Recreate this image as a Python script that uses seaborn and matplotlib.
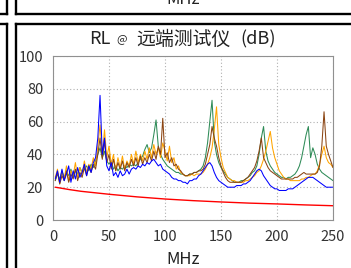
import matplotlib
matplotlib.use("Agg")
import matplotlib.pyplot as plt
from matplotlib.lines import Line2D
import seaborn as sns
import numpy as np
import pandas as pd

# frequency grid (MHz) shared by the measured traces
freq = list(range(2, 251, 2))

blue_rl = [
    25, 30, 23, 31, 24, 28, 33, 23, 30, 25, 32, 26, 29, 34, 27, 33, 29, 35, 38, 50,
    76, 40, 50, 33, 30, 35, 27, 29, 26, 30, 27, 28, 31, 28, 31, 32, 31, 33, 32, 34,
    33, 35, 34, 36, 37, 35, 33, 34, 31, 30, 29, 28, 26, 25, 25, 24, 24, 23, 23, 22,
    24, 24, 25, 25, 27, 28, 30, 32, 34, 35, 33, 29, 26, 24, 23, 22, 21, 20, 20, 20,
    20, 21, 21, 21, 22, 22, 23, 24, 26, 28, 30, 31, 30, 27, 25, 23, 21, 20, 19, 19,
    18, 18, 18, 18, 19, 19, 19, 20, 21, 22, 23, 24, 25, 26, 26, 26, 25, 24, 23, 22,
    21, 20, 20, 20, 20,
]
green_rl = [
    24, 28, 25, 30, 26, 29, 27, 31, 26, 30, 28, 32, 29, 31, 33, 30, 34, 32, 36, 40,
    44, 38, 42, 36, 34, 36, 31, 33, 30, 32, 31, 33, 32, 34, 33, 34, 33, 35, 37, 39,
    43, 46, 41, 44, 52, 61, 45, 40, 37, 35, 33, 32, 31, 30, 29, 29, 28, 28, 27, 27,
    28, 28, 29, 29, 30, 31, 33, 38, 47, 60, 73, 48, 40, 35, 32, 30, 28, 26, 25, 24,
    23, 23, 23, 24, 24, 25, 26, 27, 29, 30, 33, 40, 50, 57, 42, 36, 33, 31, 29, 28,
    27, 26, 26, 25, 26, 26, 27, 28, 30, 33, 38, 45, 52, 57, 38, 44, 40, 34, 31, 29,
    28, 27, 26, 25, 24,
]
orange_rl = [
    26, 31, 22, 29, 25, 33, 24, 30, 27, 35, 26, 32, 28, 36, 29, 34, 31, 38, 33, 45,
    58, 40, 55, 38, 45, 34, 40, 30, 38, 32, 39, 31, 36, 33, 40, 34, 42, 35, 40, 36,
    42, 37, 44, 38, 46, 40, 44, 38, 47, 42, 36, 45, 35, 38, 31, 33, 29, 28, 27, 27,
    27, 28, 27, 28, 28, 28, 29, 31, 34, 38, 44, 55, 69, 46, 38, 32, 29, 26, 25, 24,
    24, 23, 23, 23, 23, 24, 24, 25, 26, 27, 29, 30, 33, 37, 42, 48, 54, 44, 38, 34,
    30, 28, 26, 25, 25, 24, 24, 24, 24, 24, 25, 25, 26, 26, 27, 28, 28, 30, 34, 40,
    45, 38, 35, 34, 32,
]
brown_rl = [
    24, 29, 22, 27, 24, 30, 23, 28, 25, 31, 24, 29, 26, 32, 27, 33, 29, 34, 31, 40,
    50, 37, 48, 35, 40, 31, 37, 30, 35, 31, 36, 30, 35, 32, 37, 33, 38, 33, 39, 34,
    38, 35, 40, 36, 42, 37, 45, 40, 62, 38, 41, 35, 38, 33, 34, 31, 30, 28, 27, 27,
    28, 28, 29, 29, 30, 30, 31, 34, 40, 46, 57, 50, 45, 38, 33, 29, 26, 24, 23, 23,
    23, 23, 23, 23, 24, 25, 26, 28, 30, 32, 36, 42, 50, 38, 35, 32, 30, 29, 28, 27,
    26, 25, 25, 25, 25, 25, 25, 26, 26, 27, 28, 29, 28, 28, 28, 28, 28, 29, 33, 45,
    66, 45, 40, 36, 32,
]

# limit line
limit_freq = [2, 15, 25, 50, 75, 100, 125, 150, 175, 200, 225, 250]
limit_rl = [20, 18.5, 17.5, 15.7, 14.1, 12.8, 11.8, 11.0, 10.3, 9.8, 9.2, 8.7]

x_ticks = [0, 50, 100, 150, 200, 250]
y_ticks = [0, 20, 40, 60, 80, 100]

sns.set_style("white")
plt.rcParams['font.family'] = ['Noto Sans CJK SC', 'DejaVu Sans']

W, H = 351, 268
fig = plt.figure(figsize=(W / 100, H / 100), dpi=100)
ax = fig.add_axes([53 / W, 1 - 220 / H, 280 / W, 164 / H])

df = pd.DataFrame({"freq": freq, "green": green_rl, "orange": orange_rl,
                   "brown": brown_rl, "blue": blue_rl})
for col, color in [("green", "#2e8b57"), ("orange", "#ffa500"),
                   ("brown", "#8b4513"), ("blue", "#0000ff")]:
    sns.lineplot(data=df, x="freq", y=col, color=color, lw=0.75, ax=ax)
sns.lineplot(x=limit_freq, y=limit_rl, color="#ff0000", lw=1.0, ax=ax)

ax.set_xlim(0, 250)
ax.set_ylim(0, 100)
ax.set_xticks(x_ticks)
ax.set_yticks(y_ticks)
ax.set_xlabel("")
ax.set_ylabel("")
ax.grid(True, color="#b0b0b0", linestyle=(0, (1, 2)), lw=0.8)
for s in ax.spines.values():
    s.set_color("#909090")
    s.set_linewidth(0.8)
ax.tick_params(length=0, pad=7, labelsize=10.5, labelcolor="#333333")

# title, with the small "@" drawn as its own piece
fig.text(89 / W, 1 - 44 / H, "RL", ha="left", va="baseline",
         fontsize=13, color="#222222")
fig.text(122 / W, 1 - 42 / H, "@", ha="center", va="baseline",
         fontsize=8, color="#222222")
fig.text(136 / W, 1 - 45 / H, "远端测试仪", ha="left", va="baseline",
         fontsize=13.6, color="#222222")
fig.text(276 / W, 1 - 44 / H, "(dB)", ha="right", va="baseline",
         fontsize=13, color="#222222")
fig.text(183 / W, 1 - 264 / H, "MHz", ha="center", va="baseline",
         fontsize=12, color="#222222")
# cut-off label of the panel above
fig.text(183 / W, 1 - 4 / H, "MHz", ha="center", va="baseline",
         fontsize=12, color="#222222")

# panel frames
def fline(x0, y0, x1, y1):
    fig.add_artist(Line2D([x0 / W, x1 / W], [1 - y0 / H, 1 - y1 / H],
                          color="black", lw=1.7, solid_capstyle="projecting"))

fline(7, 0, 7, 14)
fline(16, 0, 16, 14)
fline(0, 14, 7, 14)
fline(16, 14, 360, 14)
fline(7, 24, 7, 280)
fline(16, 24, 16, 280)
fline(0, 24, 7, 24)
fline(16, 24, 360, 24)

fig.savefig("out.png", dpi=100)
